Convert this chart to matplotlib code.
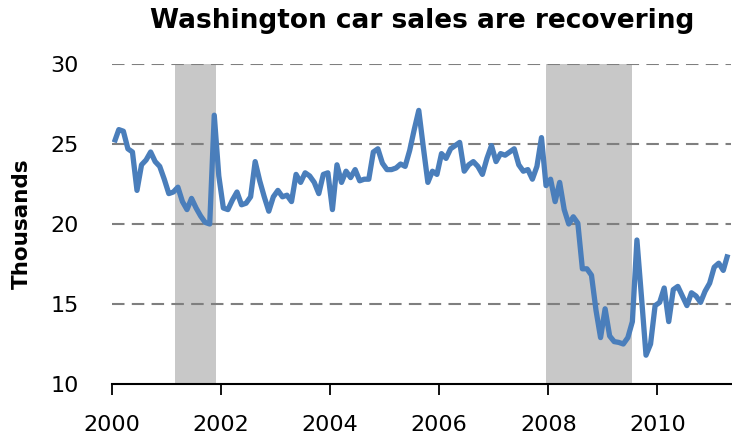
import matplotlib
matplotlib.use('Agg')
import matplotlib.pyplot as plt
import numpy as np

# monthly sales (thousands), Jan 2000 - Apr 2011
sales = [25.1, 25.9, 25.8, 24.7, 24.5, 22.1, 23.7, 24.0, 24.5, 23.9, 23.6, 22.8,
         21.9, 22.0, 22.3, 21.4, 20.9, 21.6, 21.0, 20.5, 20.1, 20.0, 26.8, 23.0,
         21.0, 20.9, 21.5, 22.0, 21.2, 21.3, 21.7, 23.9, 22.7, 21.7, 20.8, 21.7,
         22.1, 21.7, 21.8, 21.4, 23.1, 22.6, 23.2, 23.0, 22.6, 21.9, 23.1, 23.2,
         20.9, 23.7, 22.6, 23.3, 22.9, 23.4, 22.7, 22.8, 22.8, 24.5, 24.7, 23.8,
         23.4, 23.4, 23.5, 23.75, 23.6, 24.6, 25.9, 27.1, 24.8, 22.6, 23.3, 23.1,
         24.4, 24.1, 24.7, 24.9, 25.1, 23.3, 23.7, 23.9, 23.6, 23.1, 24.1, 24.9,
         23.9, 24.4, 24.3, 24.5, 24.7, 23.7, 23.3, 23.4, 22.8, 23.6, 25.4, 22.4,
         22.8, 21.4, 22.6, 20.9, 20.0, 20.45, 20.05, 17.2, 17.2, 16.8, 14.6, 12.9,
         14.7, 13.0, 12.65, 12.6, 12.5, 12.9, 13.9, 19.0, 15.45, 11.8, 12.5, 14.9,
         15.1, 16.0, 13.9, 15.9, 16.1, 15.5, 14.9, 15.7, 15.5, 15.1, 15.8, 16.3,
         17.3, 17.55, 17.1, 18.1]
start_year = 2000

# recessions (decimal years)
recessions = [(2001.15, 2001.90), (2007.95, 2009.54)]

x_ticks = [2000, 2002, 2004, 2006, 2008, 2010]
y_ticks = [10, 15, 20, 25, 30]

months = np.arange(len(sales))
x = start_year + (months + 0.5) / 12.0

fig = plt.figure(figsize=(7.32, 4.42), dpi=100)
ax = fig.add_axes([112/732, 58/442, 619/732, 320/442])

for a, b in recessions:
    ax.axvspan(a, b, color='#c8c8c8', lw=0, zorder=1)

for yv in y_ticks[1:]:
    ax.axhline(yv, color='#7f7f7f', lw=1.5, ls=(0, (6, 3.5)), zorder=2)

ax.plot(x, sales, color='#4a7ebb', lw=3.8, solid_joinstyle='round',
        solid_capstyle='butt', zorder=3)

ax.set_xlim(2000, 2011.35)
ax.set_ylim(10, 30)
ax.set_xticks(x_ticks)
ax.set_yticks(y_ticks)
ax.tick_params(axis='x', direction='out', length=8, width=1.3, pad=14,
               labelsize=16)
ax.tick_params(axis='y', length=0, pad=24, labelsize=16)

for s in ['top', 'right', 'left']:
    ax.spines[s].set_visible(False)
ax.spines['bottom'].set_linewidth(1.5)
ax.spines['bottom'].set_zorder(4)

ax.set_ylabel('Thousands', fontsize=15.5, fontweight='bold', labelpad=13)
fig.text(0.577, 0.952, 'Washington car sales are recovering', ha='center',
         va='center', fontsize=19, fontweight='bold')

fig.savefig('out.png', dpi=100)
